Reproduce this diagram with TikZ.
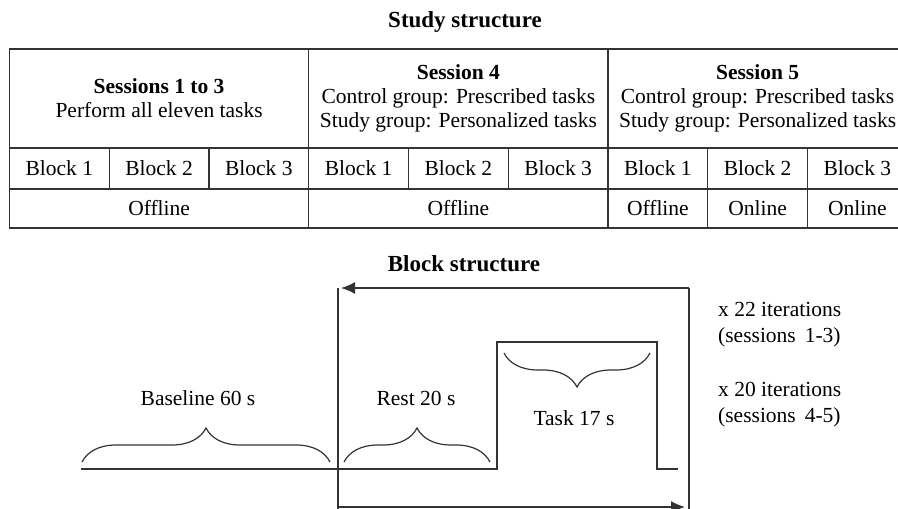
\documentclass[tikz,border=0pt]{standalone}
\usepackage{fontspec}
\setmainfont{Liberation Serif}
\usetikzlibrary{decorations.pathreplacing,arrows.meta}
\definecolor{ln}{HTML}{333333}
\begin{document}
\begin{tikzpicture}[x=1pt,y=-1pt,
  every node/.style={font=\fontsize{21.5}{24}\selectfont, text=black, inner sep=0pt},
  cell/.style={draw=ln, line width=1.1pt, align=center, minimum height=#1},
  cell/.default=41pt,
  wide/.style={minimum width=299.25pt},
  narrow/.style={minimum width=99.75pt},
  title/.style={font=\fontsize{23}{26}\selectfont\bfseries},
  sig/.style={draw=ln, line width=1.4pt},
  brc/.style={draw=ln, line width=1.2pt, decorate, decoration={brace, amplitude=34pt, aspect=0.5}},
  arr/.style={draw=ln, line width=1.4pt, -{Latex[length=14pt,width=12pt]}},
  lbl/.style={align=left, anchor=west, font=\fontsize{21.5}{26}\selectfont}
]
\clip (0,0) rectangle (898,509);

\node[title] (t1) at (465,22) {Study structure};

% row 1
\node[cell=99pt, wide] (g1) at (159.1,98.5) {\textbf{Sessions 1 to 3}\\Perform all eleven tasks};
\node[cell=99pt, wide] (g2) at (458.4,98.5) {\textbf{Session 4}\\Control group: Prescribed tasks\\Study group: Personalized tasks};
\node[cell=99pt, wide] (g3) at (757.6,98.5) {\textbf{Session 5}\\Control group: Prescribed tasks\\Study group: Personalized tasks};

% row 2
\foreach \i/\t [count=\k from 0] in {1/Block 1,2/Block 2,3/Block 3,4/Block 1,5/Block 2,6/Block 3,7/Block 1,8/Block 2,9/Block 3}{
  \node[cell=41pt, narrow] (b\i) at ({9.5+99.75*\k+49.875},168.5) {\t};
}

% row 3
\node[cell=39pt, wide] (o1) at (159.1,208.5) {Offline};
\node[cell=39pt, wide] (o2) at (458.4,208.5) {Offline};
\node[cell=39pt, narrow] (o3) at (657.9,208.5) {Offline};
\node[cell=39pt, narrow] (o4) at (757.6,208.5) {Online};
\node[cell=39pt, narrow] (o5) at (857.4,208.5) {Online};

% block structure
\node[title] (t2) at (464,264) {Block structure};

\coordinate (s0) at (81,469);
\coordinate (s1) at (497,469);
\coordinate (s2) at (497,342);
\coordinate (s3) at (657,342);
\coordinate (s4) at (657,469);
\coordinate (s5) at (678,469);
\draw[sig] (s0) -- (s1) -- (s2) -- (s3) -- (s4) -- (s5);

\coordinate (lt) at (338,288);
\coordinate (lb) at (338,512);
\coordinate (rt) at (689,288);
\coordinate (rb) at (689,512);
\coordinate (at) at (341,288);
\coordinate (bl) at (338,507);
\coordinate (br) at (685,507);
\draw[sig] (lt) -- (lb);
\draw[sig] (rt) -- (rb);
\draw[arr] (rt) -- (at);
\draw[arr] (bl) -- (br);

\coordinate (ba) at (82,462);
\coordinate (bb) at (330,462);
\coordinate (ra) at (344,462);
\coordinate (rr) at (490,462);
\coordinate (ta) at (650,353);
\coordinate (tb) at (504,353);
\draw[brc] (ba) -- (bb);
\draw[brc] (ra) -- (rr);
\draw[brc] (ta) -- (tb);

\node (baseline) at (198,398) {Baseline 60 s};
\node (rest) at (416,398) {Rest 20 s};
\node (task) at (574,418) {Task 17 s};

\node[lbl] (it1) at (718,325) {x 22 iterations\\(sessions\, 1-3)};
\node[lbl] (it2) at (718,405) {x 20 iterations\\(sessions\, 4-5)};
\end{tikzpicture}
\end{document}
